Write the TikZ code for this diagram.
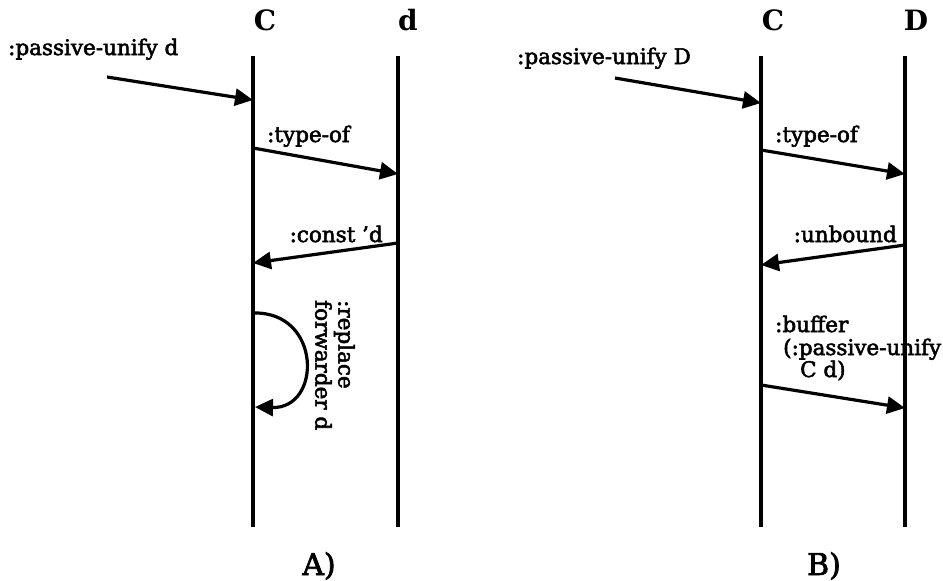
\documentclass[tikz,border=0pt]{standalone}
\usepackage{fontspec}
\setmainfont{DejaVu Serif}
\newfontfamily\labelfont{DejaVu Serif}[FakeBold=2.5]
\usetikzlibrary{arrows.meta}

\begin{document}
\begin{tikzpicture}[x=1pt,y=-1pt,
  lifeline/.style={line width=3.2pt},
  msg/.style={line width=3.2pt,-{Triangle[length=18pt,width=17pt]}},
  lbl/.style={inner sep=0pt,anchor=base west,font=\fontsize{21.5}{23}\labelfont},
  head/.style={inner sep=0pt,anchor=base,font=\fontsize{28}{32}\selectfont\bfseries},
  caption/.style={inner sep=0pt,anchor=base,font=\fontsize{30}{36}\labelfont}]
\useasboundingbox (0,0) rectangle (943,581);

% object headers
\node[head] (hCA) at (265,30) {C};
\node[head] (hdA) at (408,30) {d};
\node[head] (hCB) at (773,30) {C};
\node[head] (hDB) at (916,30) {D};

% lifelines
\coordinate (CAt) at (253,56);  \coordinate (CAb) at (253,527);
\coordinate (dAt) at (398,56);  \coordinate (dAb) at (398,527);
\coordinate (CBt) at (761,56);  \coordinate (CBb) at (761,527);
\coordinate (DBt) at (905,56);  \coordinate (DBb) at (905,527);
\draw[lifeline] (CAt) -- (CAb);
\draw[lifeline] (dAt) -- (dAb);
\draw[lifeline] (CBt) -- (CBb);
\draw[lifeline] (DBt) -- (DBb);

% ---- case A ----
\coordinate (pA0) at (107,77);  \coordinate (pA1) at (253,100);
\coordinate (tA0) at (253,148); \coordinate (tA1) at (398,174);
\coordinate (cA0) at (398,243); \coordinate (cA1) at (253,263);
\coordinate (rA0) at (253,313); \coordinate (rA1) at (255,407);
\draw[msg] (pA0) -- (pA1);
\draw[msg] (tA0) -- (tA1);
\draw[msg] (cA0) -- (cA1);
\draw[msg] (rA0) .. controls (322,311) and (322,409) .. (rA1);

\node[lbl] (lpA) at (8,55) {:passive-unify d};
\node[lbl] (ltA) at (267,142) {:type-of};
\node[lbl,anchor=base east] (lcA) at (383,242) {:const ’d};
\node[lbl,rotate=-90,anchor=north west,align=left] (lrA) at (355,300) {:replace\\forwarder d};

% ---- case B ----
\coordinate (pB0) at (615,78);  \coordinate (pB1) at (761,103);
\coordinate (tB0) at (761,150); \coordinate (tB1) at (905,174);
\coordinate (uB0) at (905,245); \coordinate (uB1) at (761,265);
\coordinate (bB0) at (761,385); \coordinate (bB1) at (905,408);
\draw[msg] (pB0) -- (pB1);
\draw[msg] (tB0) -- (tB1);
\draw[msg] (uB0) -- (uB1);
\draw[msg] (bB0) -- (bB1);

\node[lbl] (lpB) at (517,64) {:passive-unify D};
\node[lbl] (ltB) at (775,142) {:type-of};
\node[lbl,anchor=base east] (luB) at (897,242) {:unbound};
\node[lbl] (lbB1) at (775,332) {:buffer};
\node[lbl] (lbB2) at (783,355) {(:passive-unify};
\node[lbl] (lbB3) at (800,377) {C d)};

% captions
\node[caption] (capA) at (319,575) {A)};
\node[caption] (capB) at (824,575) {B)};
\end{tikzpicture}
\end{document}
